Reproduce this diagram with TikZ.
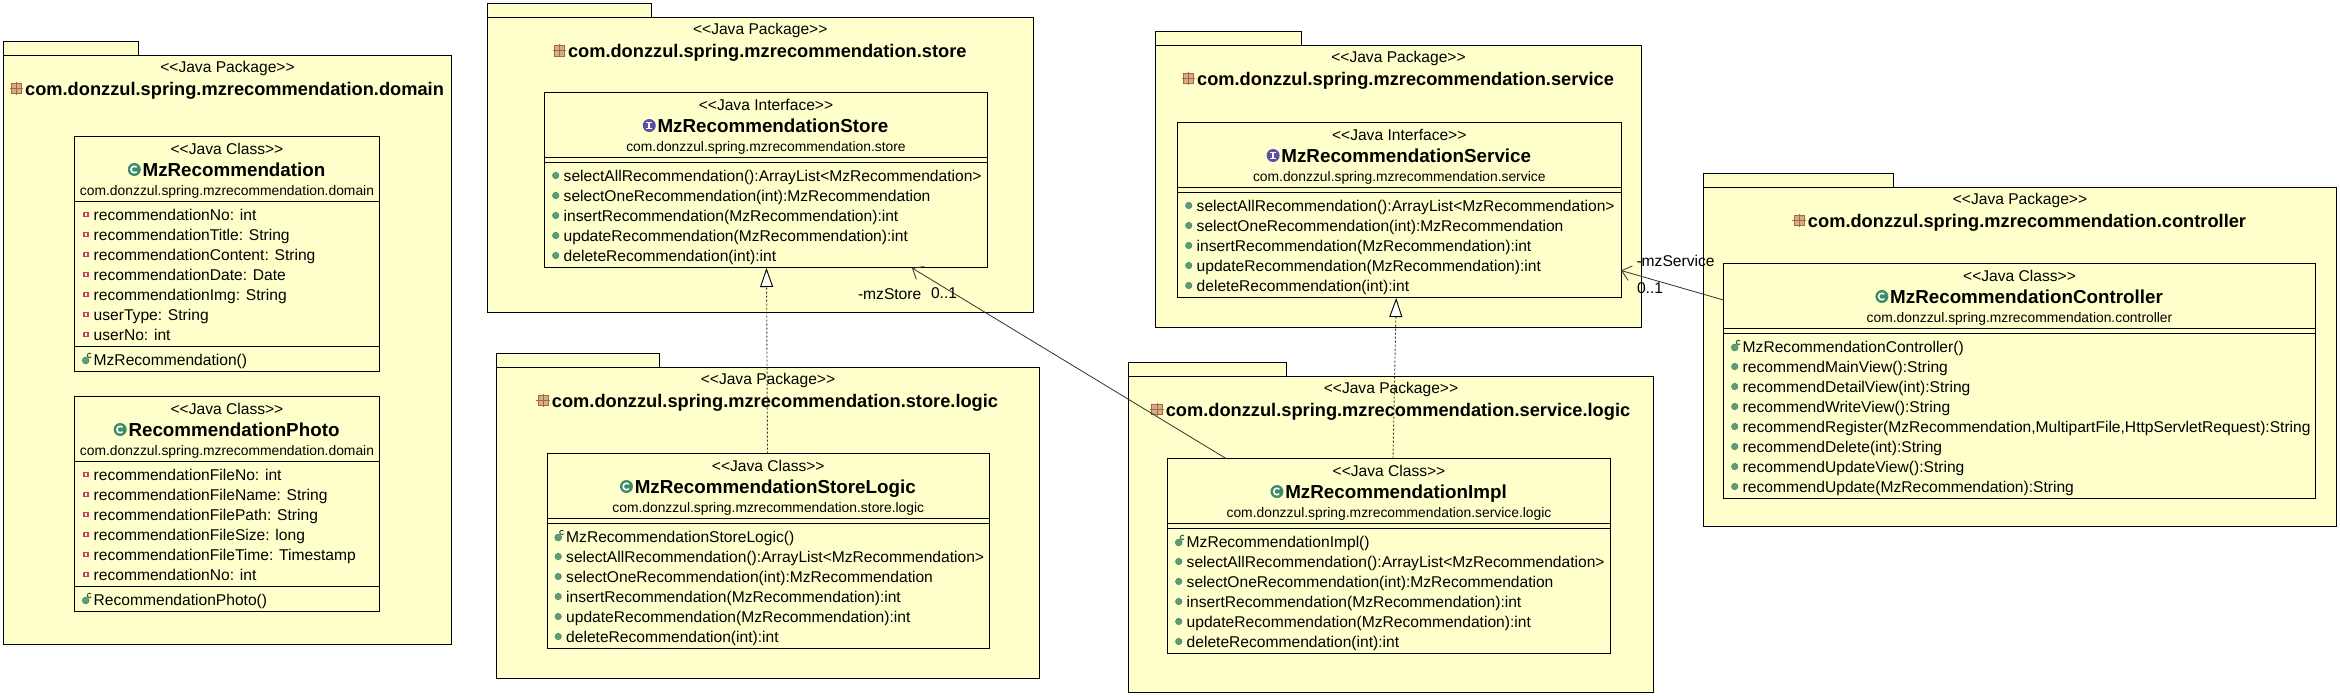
\documentclass[tikz,border=0pt]{standalone}
\usepackage{fontspec}
\usetikzlibrary{arrows.meta,calc}
\newfontfamily\umlf{Liberation Sans}
\definecolor{pkgfill}{HTML}{FFFFCC}
\definecolor{clsgreen}{HTML}{3F8C68}
\definecolor{dotgreen}{HTML}{5F9C7C}
\definecolor{ifpurple}{HTML}{5A4EA6}
\definecolor{fldred}{HTML}{D23A5E}
\definecolor{pkgicon}{HTML}{D2AE8C}
\definecolor{pkgedge}{HTML}{A8683A}
\definecolor{linegray}{HTML}{303030}
\tikzset{
  umlbox/.style={draw=black,fill=pkgfill,line width=0.9pt,inner sep=0pt,outer sep=0pt,rectangle},
  stereo/.style={anchor=base,inner sep=0pt,outer sep=0pt,font=\umlf\fontsize{15.6}{18}\selectfont},
  title/.style={anchor=base,inner sep=0pt,outer sep=0pt,font=\umlf\bfseries\fontsize{18.25}{20}\selectfont},
  clsname/.style={anchor=base,inner sep=0pt,outer sep=0pt,font=\umlf\bfseries\fontsize{18.8}{20}\selectfont},
  qual/.style={anchor=base,inner sep=0pt,outer sep=0pt,font=\umlf\fontsize{13.85}{16}\selectfont},
  row/.style={anchor=base west,inner sep=0pt,outer sep=0pt,font=\umlf\fontsize{15.6}{18}\selectfont},
  conlabel/.style={anchor=base west,inner sep=0pt,outer sep=0pt,font=\umlf\fontsize{15.6}{18}\selectfont},
  assoc/.style={draw=linegray,line width=0.8pt,-{Straight Barb[length=9pt,width=15pt,line width=0.8pt]}},
  realize/.style={draw=linegray,line width=0.9pt,dash pattern=on 2pt off 2pt,
     -{Triangle[open,fill=white,length=19pt,width=13pt,line width=0.9pt,color=black]}},
}
\newcount\rowsdone
\newcount\compnum
% package: id, x1, xtab, x2, ytab, y2, title
\newcommand\pkgbox[7]{%
  \pgfmathsetmacro\pa{#5+14}%
  \pgfmathsetmacro\pw{#4-#2}\pgfmathsetmacro\ph{#6-\pa}%
  \pgfmathsetmacro\tw{#3-#2}%
  \pgfmathsetmacro\cx{(#2+#4)/2}\pgfmathsetmacro\cy{(\pa+#6)/2}%
  \pgfmathsetmacro\tx{(#2+#3)/2}\pgfmathsetmacro\ty{#5+7}%
  \node[umlbox,minimum width=\tw pt,minimum height=14pt] (#1-tab) at (\tx,\ty) {};
  \node[umlbox,minimum width=\pw pt,minimum height=\ph pt] (#1) at (\cx,\cy) {};
  \pgfmathsetmacro\sy{\pa+17.4}\pgfmathsetmacro\nx{\cx+7}\pgfmathsetmacro\ny{\pa+40.4}%
  \node[stereo] (#1-st) at (\cx,\sy) {<<Java Package>>};
  \node[title] (#1-nm) at (\nx,\ny) {#7};
  \path[fill=pkgicon,draw=pkgedge,line width=0.7pt] ($(#1-nm.base west)+(-14,-12.5)$) rectangle ($(#1-nm.base west)+(-3.5,-2)$);
  \draw[pkgedge,line width=0.6pt] ($(#1-nm.base west)+(-8.7,-14)$) -- ($(#1-nm.base west)+(-8.7,-0.5)$);
  \draw[pkgedge,line width=0.6pt] ($(#1-nm.base west)+(-15.5,-7.2)$) -- ($(#1-nm.base west)+(-2,-7.2)$);
}
% class: id, x1, x2, ytop, ybot, icon C/I, stereotype, name, qualifier
\newcommand\clsbox[9]{%
  \pgfmathsetmacro\pw{#3-#2}\pgfmathsetmacro\ph{#5-#4}%
  \pgfmathsetmacro\cx{(#2+#3)/2}\pgfmathsetmacro\cy{(#4+#5)/2}%
  \node[umlbox,minimum width=\pw pt,minimum height=\ph pt] (#1) at (\cx,\cy) {};
  \pgfmathsetmacro\sy{#4+18}\pgfmathsetmacro\nx{\cx+7}\pgfmathsetmacro\ny{#4+40}\pgfmathsetmacro\qy{#4+59.3}%
  \node[stereo] (#1-st) at (\cx,\sy) {#7};
  \node[clsname] (#1-nm) at (\nx,\ny) {#8};
  \node[qual] (#1-pk) at (\cx,\qy) {#9};
  \csname icon#6\endcsname{($(#1-nm.base west)+(-8.3,-7)$)}%
  \gdef\curid{#1}\xdef\curxa{#2}\xdef\curxb{#3}%
  \global\compnum=0
  \pgfmathsetmacro\yy{#4+65}\xdef\cury{\yy}%
  \draw[black,line width=0.9pt] (\curxa,\cury) -- (\curxb,\cury);
}
\newcommand\iconC[1]{%
  \fill[clsgreen] #1 circle (6.5pt);
  \draw[white,line width=1.6pt] #1 ++(45:3.3pt) arc (45:315:3.3pt);
}
\newcommand\iconI[1]{%
  \fill[ifpurple] #1 circle (6.5pt);
  \draw[white,line width=1.5pt] #1 ++(-3pt,-3pt) -- ++(6pt,0pt);
  \draw[white,line width=1.5pt] #1 ++(-3pt,3pt) -- ++(6pt,0pt);
  \draw[white,line width=2pt] #1 ++(0pt,-3pt) -- ++(0pt,6pt);
}
\newcommand\rowiconf[1]{\path[draw=fldred,fill=white,line width=1.5pt] ($(#1.base west)+(-9.5,-7.5)$) rectangle ($(#1.base west)+(-5.5,-3.5)$);}
\newcommand\rowiconm[1]{\path[draw=clsgreen,fill=dotgreen,line width=0.6pt] ($(#1.base west)+(-8,-5.5)$) circle (3.2pt);}
\newcommand\rowiconc[1]{%
  \path[draw=clsgreen,fill=dotgreen,line width=0.6pt] ($(#1.base west)+(-8,-4.5)$) circle (3.4pt);
  \draw[clsgreen!70!black,line width=1pt] ($(#1.base west)+(-2.6,-11)$) arc (40:320:2.2pt);
}
% rows: list of kind/text
\newcommand\clsrows[1]{%
  \rowsdone=0
  \global\advance\compnum by 1
  \foreach \k/\t in {#1}{%
    \global\advance\rowsdone by 1
    \pgfmathsetmacro\rx{\curxa+19.2}%
    \pgfmathsetmacro\ry{\cury+18.5+20*(\the\rowsdone-1)}%
    \node[row] (\curid-c\the\compnum-r\the\rowsdone) at (\rx,\ry) {\t};
    \csname rowicon\k\endcsname{\curid-c\the\compnum-r\the\rowsdone}%
  }%
  \pgfmathsetmacro\yy{\cury+20*\the\rowsdone+5}\xdef\cury{\yy}%
  \draw[black,line width=0.9pt] (\curxa,\cury) -- (\curxb,\cury);
}
\newcommand\clsskip{%
  \pgfmathsetmacro\yy{\cury+5}\xdef\cury{\yy}%
  \draw[black,line width=0.9pt] (\curxa,\cury) -- (\curxb,\cury);
}
\begin{document}
\begin{tikzpicture}[x=1pt,y=-1pt]
\useasboundingbox (0,0) rectangle (2340,696);
\fill[white] (0,0) rectangle (2340,696);
\def\jcl{<<Java Class>>}\def\jif{<<Java Interface>>}
% packages
\pkgbox{pdomain}{3.5}{138}{451.5}{41.3}{644}{com.donzzul.spring.mzrecommendation.domain}
\pkgbox{pstore}{487.5}{651.5}{1033}{3.5}{312.5}{com.donzzul.spring.mzrecommendation.store}
\pkgbox{pstorelogic}{496.5}{659.5}{1039.5}{353.3}{678.5}{com.donzzul.spring.mzrecommendation.store.logic}
\pkgbox{pservice}{1155.5}{1301.5}{1641.5}{31.3}{327.5}{com.donzzul.spring.mzrecommendation.service}
\pkgbox{pservicelogic}{1128.5}{1286.5}{1653.5}{362.3}{692.5}{com.donzzul.spring.mzrecommendation.service.logic}
\pkgbox{pcontroller}{1703.5}{1893.5}{2336.5}{173.3}{526.5}{com.donzzul.spring.mzrecommendation.controller}
% classes
\clsbox{crec}{74.5}{379.5}{136.5}{371.5}{C}{\jcl}{MzRecommendation}{com.donzzul.spring.mzrecommendation.domain}
\clsrows{f/{recommendationNo: int},f/{recommendationTitle: String},f/{recommendationContent: String},f/{recommendationDate: Date},f/{recommendationImg: String},f/{userType: String},f/{userNo: int}}
\clsrows{c/{MzRecommendation()}}
\clsbox{cphoto}{74.5}{379.5}{396.5}{611.5}{C}{\jcl}{RecommendationPhoto}{com.donzzul.spring.mzrecommendation.domain}
\clsrows{f/{recommendationFileNo: int},f/{recommendationFileName: String},f/{recommendationFilePath: String},f/{recommendationFileSize: long},f/{recommendationFileTime: Timestamp},f/{recommendationNo: int}}
\clsrows{c/{RecommendationPhoto()}}
\clsbox{istore}{544.5}{987.5}{92.5}{267.5}{I}{\jif}{MzRecommendationStore}{com.donzzul.spring.mzrecommendation.store}
\clsskip
\clsrows{m/{selectAllRecommendation():ArrayList<MzRecommendation>},m/{selectOneRecommendation(int):MzRecommendation},m/{insertRecommendation(MzRecommendation):int},m/{updateRecommendation(MzRecommendation):int},m/{deleteRecommendation(int):int}}
\clsbox{cstorelogic}{547}{989.5}{453.5}{648.5}{C}{\jcl}{MzRecommendationStoreLogic}{com.donzzul.spring.mzrecommendation.store.logic}
\clsskip
\clsrows{c/{MzRecommendationStoreLogic()},m/{selectAllRecommendation():ArrayList<MzRecommendation>},m/{selectOneRecommendation(int):MzRecommendation},m/{insertRecommendation(MzRecommendation):int},m/{updateRecommendation(MzRecommendation):int},m/{deleteRecommendation(int):int}}
\clsbox{iservice}{1177.5}{1621}{122.5}{297.5}{I}{\jif}{MzRecommendationService}{com.donzzul.spring.mzrecommendation.service}
\clsskip
\clsrows{m/{selectAllRecommendation():ArrayList<MzRecommendation>},m/{selectOneRecommendation(int):MzRecommendation},m/{insertRecommendation(MzRecommendation):int},m/{updateRecommendation(MzRecommendation):int},m/{deleteRecommendation(int):int}}
\clsbox{cimpl}{1167.5}{1610.5}{458.5}{653.5}{C}{\jcl}{MzRecommendationImpl}{com.donzzul.spring.mzrecommendation.service.logic}
\clsskip
\clsrows{c/{MzRecommendationImpl()},m/{selectAllRecommendation():ArrayList<MzRecommendation>},m/{selectOneRecommendation(int):MzRecommendation},m/{insertRecommendation(MzRecommendation):int},m/{updateRecommendation(MzRecommendation):int},m/{deleteRecommendation(int):int}}
\clsbox{ccontroller}{1723.5}{2315.5}{263.5}{498.5}{C}{\jcl}{MzRecommendationController}{com.donzzul.spring.mzrecommendation.controller}
\clsskip
\clsrows{c/{MzRecommendationController()},m/{recommendMainView():String},m/{recommendDetailView(int):String},m/{recommendWriteView():String},m/{recommendRegister(MzRecommendation,MultipartFile,HttpServletRequest):String},m/{recommendDelete(int):String},m/{recommendUpdateView():String},m/{recommendUpdate(MzRecommendation):String}}
% connectors
\draw[realize] ($(cstorelogic.north west)+(220.5,0)$) -- ($(istore.south west)+(222,0.5)$);
\draw[realize] ($(cimpl.north west)+(225.5,0)$) -- ($(iservice.south west)+(218.7,0.5)$);
\draw[assoc] ($(cimpl.north west)+(58.5,0)$) -- ($(istore.south west)+(367.5,0.5)$);
\draw[assoc] ($(ccontroller.north west)+(0,36.5)$) -- ($(iservice.south east)+(0,-27)$);
% role labels
\node[conlabel] (lstore) at (858,299) {-mzStore};
\node[conlabel] (lstoremul) at (931,298.5) {0..1};
\node[conlabel] (lservice) at (1636.5,266) {-mzService};
\node[conlabel] (lservicemul) at (1637,293) {0..1};
\end{tikzpicture}
\end{document}
